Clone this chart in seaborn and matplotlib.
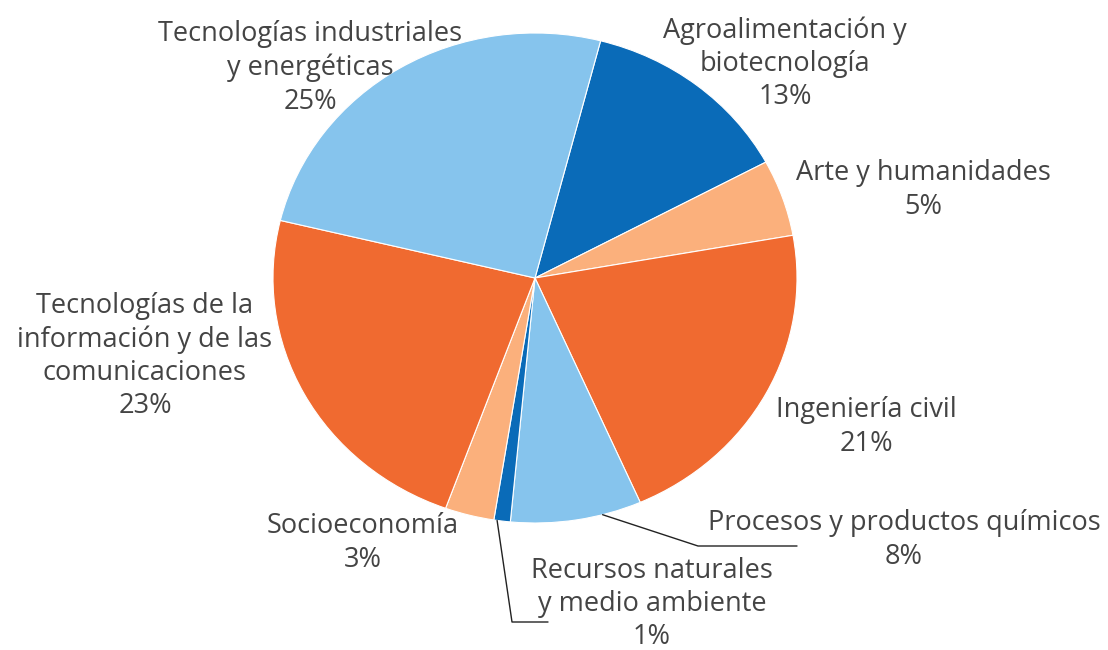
import matplotlib
matplotlib.use("Agg")
import numpy as np
import matplotlib.pyplot as plt
import seaborn as sns

# Datos (orden horario empezando por Agroalimentación)
categorias = [
    "Agroalimentación y\nbiotecnología",
    "Arte y humanidades",
    "Ingeniería civil",
    "Procesos y productos químicos",
    "Recursos naturales\ny medio ambiente",
    "Socioeconomía",
    "Tecnologías de la\ninformación y de las\ncomunicaciones",
    "Tecnologías industriales\ny energéticas",
]
porcentajes = [13, 5, 21, 8, 1, 3, 23, 25]
colores = ["#0a6bb8", "#fbb07c", "#f06a30", "#86c4ed",
           "#0a6bb8", "#fbb07c", "#f06a30", "#86c4ed"]

# posiciones de las etiquetas en píxeles (centro del bloque de texto)
pos_etiquetas = [(785, 64), (923, 190), (866, 427), (904, 540),
                 (652, 604), (363, 543), (145, 356), (310, 68)]

W, H = 1108, 650
cx, cy, rx, ry = 535, 278, 262, 245

sns.set_theme(style="white")
plt.rcParams["font.family"] = ["Open Sans", "DejaVu Sans"]

fig = plt.figure(figsize=(W / 100, H / 100), dpi=100)
ax = fig.add_axes([(cx - rx) / W, (H - cy - ry) / H, 2 * rx / W, 2 * ry / H])

wedges, _ = ax.pie(
    porcentajes,
    colors=colores,
    startangle=75.5,
    counterclock=False,
    wedgeprops=dict(edgecolor="white", linewidth=0.8),
)
ax.set_aspect("auto")
ax.set_xlim(-1, 1)
ax.set_ylim(-1, 1)
ax.axis("off")

color_texto = "#444444"
for cat, pct, (px, py) in zip(categorias, porcentajes, pos_etiquetas):
    fig.text(px / W, 1 - py / H, f"{cat}\n{pct}%", ha="center", va="center",
             multialignment="center", fontsize=19.5, color=color_texto,
             linespacing=1.25)

# líneas guía para las porciones pequeñas
def punto_borde(w, frac):
    ang = np.deg2rad(w.theta2 - frac * (w.theta2 - w.theta1))
    return np.cos(ang), np.sin(ang)

guias = {3: (0.3, [(698, 546), (797, 546)]), 4: (0.8, [(512, 622), (548, 622)])}
for i, (frac, pts) in guias.items():
    x0, y0 = punto_borde(wedges[i], frac)
    xs = [x0] + [(p[0] - cx) / rx for p in pts]
    ys = [y0] + [(cy - p[1]) / ry for p in pts]
    ax.plot(xs, ys, color="#222222", lw=1, clip_on=False)

fig.savefig("out.png", dpi=100, facecolor="white")
